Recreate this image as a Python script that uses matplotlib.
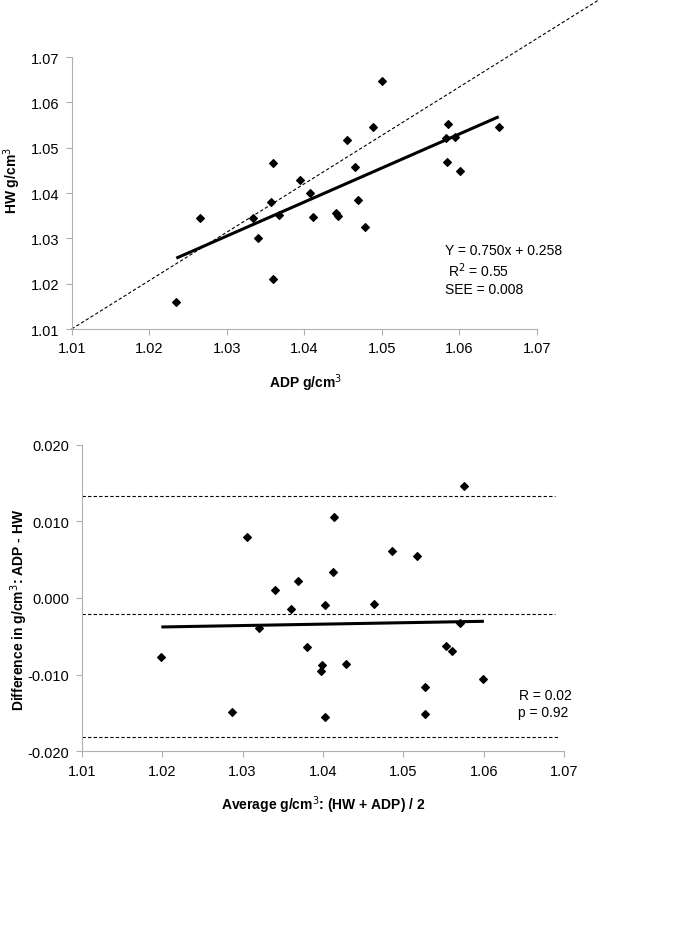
import matplotlib
matplotlib.use("Agg")
import matplotlib.pyplot as plt

plt.rcParams['font.family'] = ['Liberation Sans', 'DejaVu Sans']

# ---- Top panel data: ADP vs HW ----
adp = [1.0235, 1.0265, 1.0334, 1.0340, 1.0357, 1.0360, 1.0360, 1.0367, 1.0394,
       1.0407, 1.0411, 1.0441, 1.0444, 1.0455, 1.0466, 1.0469, 1.0479, 1.0489,
       1.0501, 1.0585, 1.0583, 1.0594, 1.0584, 1.0601, 1.0651]
hw = [1.0159, 1.0344, 1.0344, 1.0301, 1.0380, 1.0466, 1.0211, 1.0352, 1.0428,
      1.0399, 1.0347, 1.0355, 1.0349, 1.0517, 1.0458, 1.0385, 1.0324, 1.0545,
      1.0648, 1.0553, 1.0522, 1.0524, 1.0468, 1.0449, 1.0546]
reg_slope, reg_intercept = 0.750, 0.258
reg_x = [1.0235, 1.0651]
identity_x = [1.01, 1.0783]
identity_y = [1.01, 1.0829]
top_ticks = [1.01, 1.02, 1.03, 1.04, 1.05, 1.06, 1.07]

# ---- Bottom panel data: Bland-Altman ----
avg = [1.0199, 1.0287, 1.0305, 1.0321, 1.0340, 1.0360, 1.0369, 1.0380, 1.0397,
       1.0399, 1.0402, 1.0403, 1.0412, 1.0414, 1.0428, 1.0463, 1.0486, 1.0517,
       1.0527, 1.0527, 1.0553, 1.0560, 1.0570, 1.0575, 1.0599]
diff = [-0.00769, -0.01482, 0.00800, -0.00387, 0.00104, -0.00148, 0.00222, -0.00639,
        -0.00956, -0.00874, -0.01556, -0.00087, 0.00339, 0.01060, -0.00856, -0.00078,
        0.00609, 0.00548, -0.01165, -0.01512, -0.00626, -0.00695, -0.00330, 0.01460,
        -0.01052]
ba_reg_x = [1.0199, 1.0600]
ba_reg_y = [-0.00378, -0.00304]
mean_diff = -0.00213
upper_loa = 0.01334
lower_loa = -0.01816
loa_end = 1.0688
bottom_xticks = [1.01, 1.02, 1.03, 1.04, 1.05, 1.06, 1.07]
bottom_yticks = [-0.020, -0.010, 0.000, 0.010, 0.020]

fig = plt.figure(figsize=(6.85, 9.29), dpi=100)

spine_col = '#b0b0b0'

def style(ax):
    for s in ['top', 'right']:
        ax.spines[s].set_visible(False)
    for s in ['left', 'bottom']:
        ax.spines[s].set_color(spine_col)
        ax.spines[s].set_linewidth(0.8)
    ax.tick_params(axis='both', colors=spine_col, labelcolor='black',
                   direction='out', length=4, width=0.8, labelsize=10.5, pad=5)

mk = dict(ls='none', marker='D', ms=3.8, color='black', mew=0.8)

# Top axes
ax1 = fig.add_axes([71.7/685, (929-330)/929, 465/685, 272/929])
style(ax1)
ax1.plot(identity_x, identity_y, color='black', lw=0.8, ls=(0, (3, 2)), clip_on=False)
ax1.plot(reg_x, [reg_slope*v + reg_intercept for v in reg_x], color='black', lw=2.2,
         solid_capstyle='butt')
ax1.plot(adp, hw, **mk)
ax1.set_xlim(1.01, 1.07)
ax1.set_ylim(1.01, 1.07)
ax1.set_xticks(top_ticks)
ax1.set_yticks(top_ticks)
ax1.set_xticklabels([f"{t:.2f}" for t in top_ticks])
ax1.set_yticklabels([f"{t:.2f}" for t in top_ticks])
ax1.set_xlabel('ADP g/cm$^3$', fontweight='bold', fontsize=10)
ax1.xaxis.set_label_coords(0.502, -0.155)
ax1.set_ylabel('HW g/cm$^3$', fontweight='bold', fontsize=10)
ax1.yaxis.set_label_coords(-0.104, 0.55)
ax1.text(1.0582, 1.0274, 'Y = 0.750x + 0.258', fontsize=10, va='center', ha='left')
ax1.text(1.0585, 1.0230, 'R$^2$ = 0.55', fontsize=10, va='center', ha='left')
ax1.text(1.0582, 1.0188, 'SEE = 0.008', fontsize=10, va='center', ha='left')

# Bottom axes
ax2 = fig.add_axes([81.7/685, (929-752.3)/929, 482.6/685, 306.6/929])
style(ax2)
for yv, xe in [(upper_loa, loa_end), (mean_diff, loa_end), (lower_loa, 1.0693)]:
    ax2.plot([1.01, xe], [yv, yv], color='black', lw=0.8, ls=(0, (3, 2)), clip_on=False)
ax2.plot(ba_reg_x, ba_reg_y, color='black', lw=2.2, solid_capstyle='butt')
ax2.plot(avg, diff, **mk)
ax2.set_xlim(1.01, 1.07)
ax2.set_ylim(-0.020, 0.020)
ax2.set_xticks(bottom_xticks)
ax2.set_yticks(bottom_yticks)
ax2.set_xticklabels([f"{t:.2f}" for t in bottom_xticks])
ax2.set_yticklabels([f"{t:.3f}" for t in bottom_yticks])
ax2.set_xlabel('Average g/cm$^3$: (HW + ADP) / 2', fontweight='bold', fontsize=10)
ax2.xaxis.set_label_coords(0.5, -0.136)
ax2.set_ylabel('Difference in g/cm$^3$: ADP - HW', fontweight='bold', fontsize=10)
ax2.yaxis.set_label_coords(-0.108, 0.464)
ax2.text(1.0644, -0.0127, 'R = 0.02', fontsize=10, va='center', ha='left')
ax2.text(1.0643, -0.0149, 'p = 0.92', fontsize=10, va='center', ha='left')

fig.savefig('out.png', dpi=100)
